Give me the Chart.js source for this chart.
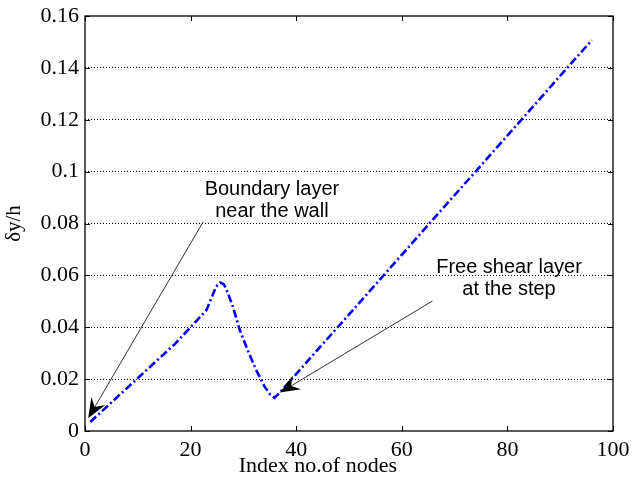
<!DOCTYPE html>
<html>
<head>
<meta charset="utf-8">
<script src="https://cdn.jsdelivr.net/npm/chart.js@4.4.0/dist/chart.umd.min.js"></script>
<style>
  html, body { margin: 0; padding: 0; background: #ffffff; }
  canvas { display: block; }
</style>
</head>
<body>
<canvas id="c" width="633" height="485"></canvas>
<script>
// ---- data ----
const nodeIndex = [1, 17, 23, 24, 24.8, 25.6, 26.3, 27, 28, 29.3, 31, 32.5, 34, 35, 35.9, 36.8, 96];
const deltaYoverH = [0.0035, 0.0335, 0.0466, 0.0515, 0.0556, 0.0572, 0.0566, 0.0535, 0.048, 0.039, 0.0302, 0.0232, 0.0172, 0.0142, 0.0128, 0.0146, 0.1507];
const xTickValues = [0, 20, 40, 60, 80, 100];
const xTickLabels = ['0', '20', '40', '60', '80', '100'];
const yTickValues = [0, 0.02, 0.04, 0.06, 0.08, 0.1, 0.12, 0.14, 0.16];
const yTickLabels = ['0', '0.02', '0.04', '0.06', '0.08', '0.1', '0.12', '0.14', '0.16'];
const xTitle = 'Index no.of nodes';
const yTitle = 'δy/h';

// annotation texts and the data points they refer to
const annotationTexts = [
  ['Boundary layer', 'near the wall'],
  ['Free shear layer', 'at the step']
];
// [text centre x, first baseline y, arrow start x, arrow start y, arrow tip x, arrow tip y] in data units
const annotationAnchors = [
  [35.4, 0.0910, 22.4, 0.0807, 0.6, 0.0049],
  [80.3, 0.0610, 65.8, 0.0501, 36.9, 0.0148]
];
// x-axis title centre along the axis (data units) — it sits left of the axis centre in the reference
const xTitleCentre = 44.1;

const points = nodeIndex.map((x, i) => ({ x: x, y: deltaYoverH[i] }));

const SERIF = '"Liberation Serif", "Times New Roman", serif';
const SANS = '"Liberation Sans", Arial, sans-serif';

const boxPlugin = {
  id: 'boxAndTicks',
  afterDatasetsDraw(chart) {
    const { ctx, chartArea: a, scales: { x, y } } = chart;
    ctx.save();
    ctx.strokeStyle = '#000';
    ctx.lineWidth = 1;
    const tl = 5;
    ctx.beginPath();
    xTickValues.forEach(v => {
      const px = Math.round(x.getPixelForValue(v)) + 0.5;
      ctx.moveTo(px, a.bottom); ctx.lineTo(px, a.bottom - tl);
      ctx.moveTo(px, a.top); ctx.lineTo(px, a.top + tl);
    });
    yTickValues.forEach(v => {
      const py = Math.round(y.getPixelForValue(v)) + 0.5;
      ctx.moveTo(a.left, py); ctx.lineTo(a.left + tl, py);
      ctx.moveTo(a.right, py); ctx.lineTo(a.right - tl, py);
    });
    ctx.stroke();
    ctx.lineWidth = 1.3;
    ctx.strokeRect(a.left, a.top, a.right - a.left, a.bottom - a.top);

    // x-axis title
    ctx.fillStyle = '#000';
    ctx.font = '22px ' + SERIF;
    ctx.textAlign = 'center';
    ctx.textBaseline = 'middle';
    ctx.fillText(xTitle, x.getPixelForValue(xTitleCentre), x.bottom - 19);
    ctx.restore();
  }
};

const annotationPlugin = {
  id: 'annotations',
  afterDatasetsDraw(chart) {
    const { ctx, scales: { x, y } } = chart;
    ctx.save();
    annotationAnchors.forEach((an, i) => {
      const tx = x.getPixelForValue(an[0]);
      const ty = y.getPixelForValue(an[1]);
      ctx.fillStyle = '#000';
      ctx.font = '20px ' + SANS;
      ctx.textAlign = 'center';
      ctx.textBaseline = 'alphabetic';
      annotationTexts[i].forEach((line, k) => ctx.fillText(line, tx, ty + k * 22));

      const sx = x.getPixelForValue(an[2]);
      const sy = y.getPixelForValue(an[3]);
      const ex = x.getPixelForValue(an[4]);
      const ey = y.getPixelForValue(an[5]);
      const ang = Math.atan2(ey - sy, ex - sx);
      const len = 20, half = 8, notch = 13;
      const bx = ex - len * Math.cos(ang), by = ey - len * Math.sin(ang);
      const nx = ex - notch * Math.cos(ang), ny = ey - notch * Math.sin(ang);
      ctx.strokeStyle = '#000';
      ctx.lineWidth = 0.8;
      ctx.beginPath();
      ctx.moveTo(sx, sy);
      ctx.lineTo(nx, ny);
      ctx.stroke();
      ctx.beginPath();
      ctx.moveTo(ex, ey);
      ctx.lineTo(bx - half * Math.sin(ang), by + half * Math.cos(ang));
      ctx.lineTo(nx, ny);
      ctx.lineTo(bx + half * Math.sin(ang), by - half * Math.cos(ang));
      ctx.closePath();
      ctx.fill();
    });
    ctx.restore();
  }
};

new Chart(document.getElementById('c'), {
  type: 'line',
  data: {
    datasets: [{
      data: points,
      borderColor: '#0000ff',
      borderWidth: 2.6,
      borderDash: [8, 3, 2, 3],
      pointRadius: 0,
      fill: false,
      tension: 0
    }]
  },
  options: {
    responsive: false,
    animation: false,
    devicePixelRatio: 1,
    layout: { padding: { top: 16, right: 20, bottom: 0, left: 0 } },
    plugins: { legend: { display: false }, tooltip: { enabled: false } },
    scales: {
      x: {
        type: 'linear',
        min: 0, max: 100,
        afterFit(s) { s.height = 54; s.paddingLeft = 0; s.paddingRight = 0; },
        afterBuildTicks(s) { s.ticks = xTickValues.map(v => ({ value: v })); },
        ticks: {
          callback: (v) => xTickLabels[xTickValues.indexOf(v)],
          color: '#000',
          font: { family: SERIF, size: 22 },
          padding: 6,
          maxRotation: 0
        },
        grid: { display: false, drawTicks: false },
        border: { display: false },
        title: { display: false, text: xTitle }
      },
      y: {
        type: 'linear',
        min: 0, max: 0.16,
        afterFit(s) { s.width = 85; s.paddingTop = 0; s.paddingBottom = 0; },
        afterBuildTicks(s) { s.ticks = yTickValues.map(v => ({ value: v })); },
        ticks: {
          callback: (v) => yTickLabels[yTickValues.findIndex(t => Math.abs(t - v) < 1e-9)],
          color: '#000',
          font: { family: SERIF, size: 22 },
          padding: 6
        },
        grid: {
          drawTicks: false,
          lineWidth: 1,
          color: (c) => (c.tick && c.tick.value > 0.001 && c.tick.value < 0.159) ? '#000' : 'rgba(0,0,0,0)',
          tickBorderDash: [1, 2]
        },
        border: { display: false, dash: [1, 2] },
        title: {
          display: true, text: yTitle, color: '#000',
          font: { family: SERIF, size: 21 },
          padding: { top: 2, bottom: 0 }
        }
      }
    }
  },
  plugins: [boxPlugin, annotationPlugin]
});
</script>
</body>
</html>
